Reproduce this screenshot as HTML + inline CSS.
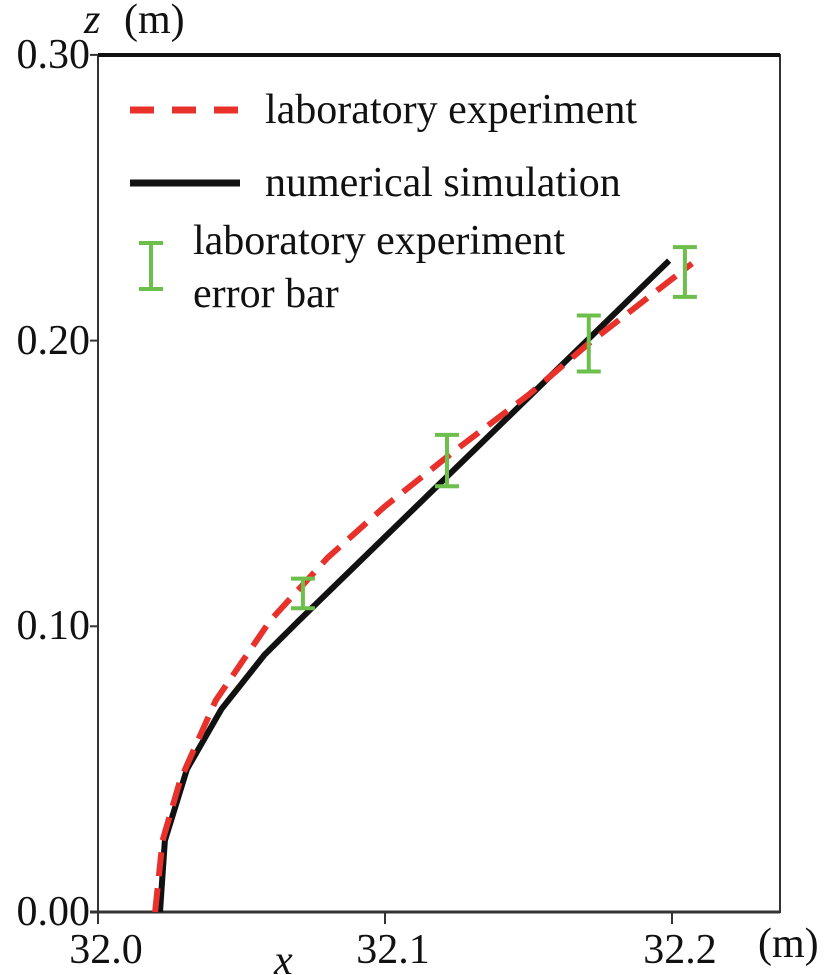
<!DOCTYPE html>
<html><head><meta charset="utf-8"><style>
body{margin:0;background:#fff}
#wrap{position:relative;width:827px;height:975px;overflow:hidden}
#wrap svg{position:absolute;left:0;top:0}
.lbl{position:absolute;font-family:"Liberation Serif","Noto Serif CJK SC","DejaVu Serif",serif;font-size:42px;line-height:42px;color:#111;white-space:nowrap}
</style></head><body>
<div id="wrap">
<svg width="827" height="975" viewBox="0 0 827 975">
<g id="plot"></g>
</svg>
</div>
<script>
const xTicks=[32.0,32.1,32.2];
const xTickLabels=["32.0","32.1","32.2"];
const zTicks=[0,0.1,0.2,0.3];
const zTickLabels=["0.00","0.10","0.20","0.30"];
const labX=[32.0199,32.0225,32.0286,32.041,32.060,32.080,32.100,32.125,32.150,32.171,32.207];
const labZ=[0,0.025,0.046,0.074,0.102,0.124,0.142,0.162,0.181,0.199,0.227];
const simX=[32.0216,32.0233,32.031,32.043,32.058,32.070,32.199];
const simZ=[0,0.025,0.05,0.071,0.090,0.102,0.228];
const errX=[32.0714,32.1216,32.171,32.2045];
const errZ=[0.1115,0.158,0.199,0.224];
const errD=[0.0052,0.009,0.0098,0.0087];

const L=98,R=780,T=55,B=912;
const sx=v=>L+(v-32.0)*2870;
const sz=v=>B-v*2857;
const NS="http://www.w3.org/2000/svg";
const g=document.getElementById('plot');
const wrap=document.getElementById('wrap');
function mk(tag,at){const e=document.createElementNS(NS,tag);for(const k in at)e.setAttribute(k,at[k]);g.appendChild(e);return e;}
function lbl(txt,x,y,align,italic){
 const d=document.createElement('div');d.className='lbl';d.textContent=txt;
 if(italic)d.style.fontStyle='italic';
 d.style.top=(y-35)+'px';
 if(align==='end'){d.style.right=(827-x)+'px';}
 else if(align==='middle'){d.style.left=x+'px';d.style.transform='translateX(-50%)';}
 else d.style.left=x+'px';
 wrap.appendChild(d);return d;
}

let e;
e=mk('rect',{x:L,y:T,width:R-L,height:B-T,fill:'none',stroke:'#333','stroke-width':2});


e=mk('line',{x1:L,y1:T,x2:R,y2:T,stroke:'#111','stroke-width':4});


e=mk('line',{x1:L-8,y1:B,x2:R,y2:B,stroke:'#333','stroke-width':3});



xTicks.forEach((v,i)=>{
 e=mk('line',{x1:sx(v),y1:B,x2:sx(v),y2:B+12,stroke:'#333','stroke-width':2});
 
 
 e=lbl(xTickLabels[i],sx(v)+8,B+52,'middle');
 
 
});
zTicks.forEach((v,i)=>{
 e=mk('line',{x1:L-8,y1:sz(v),x2:L,y2:sz(v),stroke:'#333','stroke-width':2});
 
 
 e=lbl(zTickLabels[i],L-8,sz(v)+14,'end');
 
 
});
e=lbl('(m)',758,958,'start');


e=lbl('x',274,975,'start',true);


e=lbl('z',84,34,'start',true);


e=lbl('(m)',124,34,'start');



e=mk('polyline',{points:simX.map((v,i)=>sx(v)+','+sz(simZ[i])).join(' '),fill:'none',stroke:'#111','stroke-width':6});


e=mk('polyline',{points:labX.map((v,i)=>sx(v)+','+sz(labZ[i])).join(' '),fill:'none',stroke:'#e8312b','stroke-width':6,'stroke-dasharray':'24,12','stroke-linejoin':'round'});


errX.forEach((v,i)=>{
 const x=sx(v),y1=sz(errZ[i]+errD[i]),y2=sz(errZ[i]-errD[i]);
 e=mk('path',{d:`M${x-12},${y1}H${x+12}M${x},${y1}V${y2}M${x-12},${y2}H${x+12}`,stroke:'#6cbf4a','stroke-width':4,fill:'none'});
 
 
});

e=mk('line',{x1:130,y1:110,x2:240,y2:110,stroke:'#e8312b','stroke-width':7,'stroke-dasharray':'24,18'});


e=lbl('laboratory experiment',265,124,'start');


e=mk('line',{x1:130,y1:183,x2:240,y2:183,stroke:'#111','stroke-width':7});


e=lbl('numerical simulation',265,197,'start');


e=mk('path',{d:'M139,243H163M151,243V289M139,289H163',stroke:'#6cbf4a','stroke-width':4,fill:'none'});


e=lbl('laboratory experiment',193,255,'start');


e=lbl('error bar',193,308,'start');


</script>
</body></html>
